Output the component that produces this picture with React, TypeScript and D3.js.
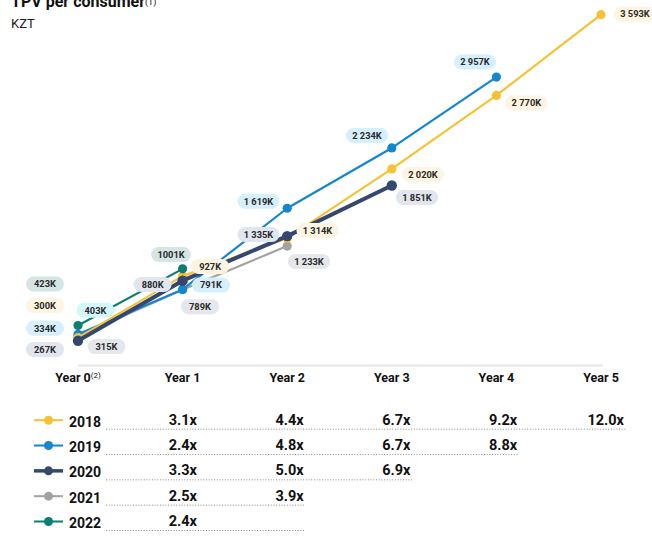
import React from "react";
import * as d3 from "d3";

// ---------- data ----------
const years = ["Year 0", "Year 1", "Year 2", "Year 3", "Year 4", "Year 5"];
const cohorts = ["2018", "2019", "2020", "2021", "2022"];

const tpv2018 = [300, 927, 1314, 2020, 2770, 3593];
const tpv2019 = [334, 791, 1619, 2234, 2957];
const tpv2020 = [267, 880, 1335, 1851];
const tpv2021 = [315, 789, 1233];
const tpv2022 = [423, 1001];

const labels2018 = ["300K", "927K", "1 314K", "2 020K", "2 770K", "3 593K"];
const labels2019 = ["334K", "791K", "1 619K", "2 234K", "2 957K"];
const labels2020 = ["267K", "880K", "1 335K", "1 851K"];
const labels2021 = ["315K", "789K", "1 233K"];
const labels2022 = ["423K", "1001K"];

const multiples2018 = ["3.1x", "4.4x", "6.7x", "9.2x", "12.0x"];
const multiples2019 = ["2.4x", "4.8x", "6.7x", "8.8x"];
const multiples2020 = ["3.3x", "5.0x", "6.9x"];
const multiples2021 = ["2.5x", "3.9x"];
const multiples2022 = ["2.4x", ""];

const strayLabel = "403K";

// ---------- layout / style ----------
const W = 652;
const H = 536;
const FONT = "Roboto, 'Noto Sans', sans-serif";

const lineColors = ["#F6C233", "#1486CD", "#34486F", "#A2A2A2", "#0E7E71"];
const pillColors = ["#FDF5E1", "#D6EFFC", "#E1E5EE", "#E6E7EC", "#D4E6E3"];
const strayPillColor = "#D5F6FB";
const lineWidths = [2.2, 2.2, 4, 2.2, 2.2];
const dotRadius = [4.6, 4.6, 5.2, 4.6, 4.6];
const drawOrder = [3, 1, 0, 2, 4];

// label offsets (dx, dy) relative to each point
const offsets2018 = [[-33, -32], [27.5, -9.6], [30.3, -7.7], [31.2, 5.6], [30, 7.6], [34, -0.7]];
const offsets2019 = [[-33, -6], [28.4, -4.4], [-28.7, -7], [-24.8, -12.4], [-21.4, -15]];
const offsets2020 = [[-33, 8.7], [-30, 3.8], [-28.7, -1.6], [25.2, 12]];
const offsets2021 = [[28.5, 10.5], [17.4, 17], [21.8, 15.4]];
const offsets2022 = [[-33, -41.5], [-11.6, -14.3]];
const strayOffset = [17.5, -24];

const series = [
  { values: tpv2018, labels: labels2018, offsets: offsets2018, mult: multiples2018 },
  { values: tpv2019, labels: labels2019, offsets: offsets2019, mult: multiples2019 },
  { values: tpv2020, labels: labels2020, offsets: offsets2020, mult: multiples2020 },
  { values: tpv2021, labels: labels2021, offsets: offsets2021, mult: multiples2021 },
  { values: tpv2022, labels: labels2022, offsets: offsets2022, mult: multiples2022 },
];

const x = d3.scaleLinear().domain([0, 5]).range([78, 601]);
const y = d3.scaleLinear().domain([0, 3600]).range([367, 14]);
const xTable = d3.scaleLinear().domain([0, 4]).range([197, 624]);

const PILL_FS = 9.3;
function textWidth(s: string, fs: number) {
  let w = 0;
  for (const c of s) {
    if (c === " ") w += 0.25;
    else if (c === "K") w += 0.63;
    else w += 0.56;
  }
  return w * fs;
}

function Pill({ cx, cy, text, fill }: { cx: number; cy: number; text: string; fill: string }) {
  const w = Math.max(38, textWidth(text, PILL_FS) + 13);
  const h = 15;
  return (
    <g>
      <rect x={cx - w / 2} y={cy - h / 2} width={w} height={h} rx={h / 2} fill={fill} />
      <text
        x={cx}
        y={cy + 3.3}
        textAnchor="middle"
        fontSize={PILL_FS}
        fontWeight={700}
        fill="#2a2a2a"
        fontFamily={FONT}
      >
        {text}
      </text>
    </g>
  );
}

export default function App() {
  const line = d3
    .line<number>()
    .x((_, i) => x(i))
    .y((d) => y(d));

  const rowY = d3.scaleLinear().domain([0, 4]).range([426.7, 528]);

  return (
    <div style={{ position: "fixed", left: 0, top: 0, width: W, height: H, background: "#fff" }}>
      <svg width={W} height={H} style={{ display: "block" }}>
        <rect width={W} height={H} fill="#fff" />
        {/* title */}
        <text x={11} y={6.5} fontSize={16} fontWeight={700} fill="#111" fontFamily={FONT}>
          TPV per consumer
          <tspan fontSize={9} fontWeight={400} dy={-1.5}>(1)</tspan>
        </text>
        <text x={11} y={27.5} fontSize={13} fill="#222" fontFamily={FONT}>
          KZT
        </text>

        {/* axis baseline */}
        <line x1={x(0)} x2={x(5) + 2} y1={365.5} y2={365.5} stroke="#E5E5E5" strokeWidth={2} />

        {/* x labels */}
        {years.map((yr, i) => (
          <text
            key={yr}
            x={x(i)}
            y={382}
            textAnchor="middle"
            fontSize={12.5}
            fontWeight={700}
            fill="#111"
            fontFamily={FONT}
          >
            {yr}
            {i === 0 && (
              <tspan fontSize={8} fontWeight={400} dy={-4}>
                (2)
              </tspan>
            )}
          </text>
        ))}

        {/* lines */}
        {drawOrder.map((si) => (
          <g key={"l" + si}>
            <path
              d={line(series[si].values) || ""}
              fill="none"
              stroke={lineColors[si]}
              strokeWidth={lineWidths[si]}
              strokeLinejoin="round"
              strokeLinecap="round"
            />
            {series[si].values.map((v, i) => (
              <circle key={i} cx={x(i)} cy={y(v)} r={dotRadius[si]} fill={lineColors[si]} />
            ))}
          </g>
        ))}

        {/* labels */}
        {series.map((s, si) =>
          s.values.map((v, i) => (
            <Pill
              key={si + "-" + i}
              cx={x(i) + s.offsets[i][0]}
              cy={y(v) + s.offsets[i][1]}
              text={s.labels[i]}
              fill={pillColors[si]}
            />
          ))
        )}
        <Pill
          cx={x(0) + strayOffset[0]}
          cy={y(tpv2019[0]) + strayOffset[1]}
          text={strayLabel}
          fill={strayPillColor}
        />

        {/* legend table */}
        {series.map((s, si) => {
          const by = rowY(si);
          const lastEdge = xTable(s.mult.length - 1) + 1.5;
          return (
            <g key={"row" + si}>
              <line
                x1={34}
                x2={63}
                y1={by - 6.5}
                y2={by - 6.5}
                stroke={lineColors[si]}
                strokeWidth={si === 2 ? 3.5 : 2}
              />
              <circle cx={48.5} cy={by - 6.5} r={4.5} fill={lineColors[si]} />
              <text x={69} y={by} fontSize={14} fontWeight={700} fill="#111" fontFamily={FONT}>
                {cohorts[si]}
              </text>
              <line
                x1={106}
                x2={lastEdge}
                y1={by + 2.5}
                y2={by + 2.5}
                stroke="#8a8a8a"
                strokeWidth={1}
                strokeDasharray="1,1.7"
              />
              {s.mult.map((m, mi) => (
                <text
                  key={mi}
                  x={xTable(mi)}
                  y={by - 2}
                  textAnchor="end"
                  fontSize={14.5}
                  fontWeight={700}
                  fill="#111"
                  fontFamily={FONT}
                >
                  {m}
                </text>
              ))}
            </g>
          );
        })}
      </svg>
    </div>
  );
}
